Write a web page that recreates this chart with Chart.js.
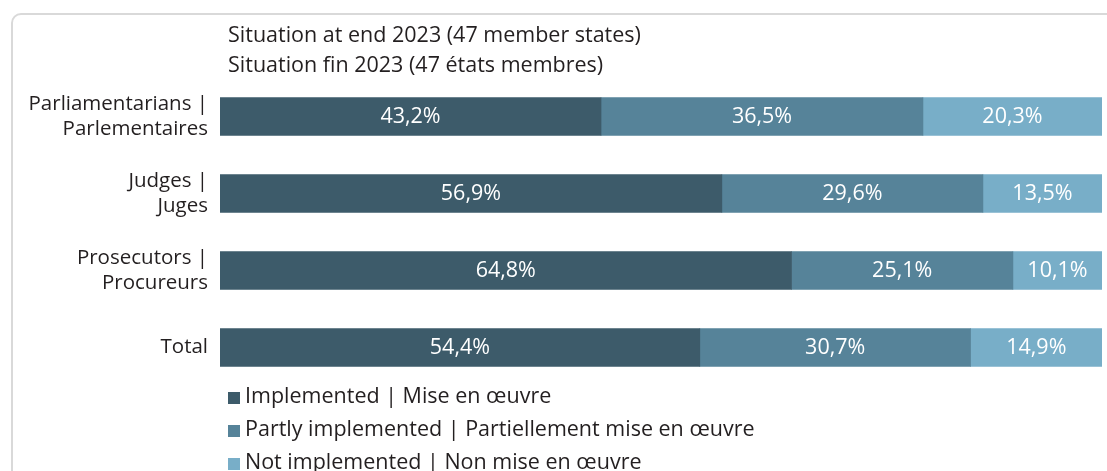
<!DOCTYPE html>
<html>
<head>
<meta charset="utf-8">
<script src="https://cdn.jsdelivr.net/npm/chart.js@4"></script>
<style>
  html, body { margin: 0; padding: 0; background: #fff; overflow: hidden; }
  body { width: 1107px; height: 471px; position: relative; font-family: "Open Sans", sans-serif; color: #231f20; }
  .frame { position: absolute; left: 11px; top: 13px; width: 1300px; height: 700px;
           border: 2px solid #d9d9d9; border-radius: 10px; box-sizing: border-box; }
  #wrap { position: absolute; left: 0; top: 0; width: 1107px; height: 471px; }
  .title { position: absolute; left: 228px; font-size: 21.5px; line-height: 30px; white-space: nowrap; }
  #legend { position: absolute; left: 228px; top: 378px; font-size: 21.5px; }
  #legend div { height: 33px; line-height: 33px; white-space: nowrap; }
  #legend span.box { display: inline-block; width: 12px; height: 12px; margin-right: 5px; vertical-align: -1px; }
</style>
</head>
<body>
<div class="frame"></div>
<div id="wrap"><canvas id="chart"></canvas></div>
<div class="title" style="top:19px">Situation at end 2023 (47 member states)</div>
<div class="title" style="top:49px">Situation fin 2023 (47 états membres)</div>
<div id="legend"></div>
<script>
const categories = [
  ["Parliamentarians |", "Parlementaires"],
  ["Judges |", "Juges"],
  ["Prosecutors |", "Procureurs"],
  "Total"
];
const seriesNames = [
  "Implemented | Mise en œuvre",
  "Partly implemented | Partiellement mise en œuvre",
  "Not implemented | Non mise en œuvre"
];
const implemented = [43.2, 56.9, 64.8, 54.4];
const partly = [36.5, 29.6, 25.1, 30.7];
const notImplemented = [20.3, 13.5, 10.1, 14.9];
const colors = ["#3d5b6a", "#568399", "#78aec8"];

const barLabels = {
  id: "barLabels",
  afterDatasetsDraw(chart) {
    const ctx = chart.ctx;
    ctx.save();
    ctx.fillStyle = "#ffffff";
    ctx.font = "21.5px 'Open Sans'";
    ctx.textAlign = "center";
    ctx.textBaseline = "middle";
    chart.data.datasets.forEach((ds, i) => {
      chart.getDatasetMeta(i).data.forEach((bar, j) => {
        const x = (bar.x + bar.base) / 2;
        ctx.fillText(ds.data[j].toFixed(1).replace(".", ",") + "%", x, bar.y);
      });
    });
    ctx.restore();
  }
};

const chart = new Chart(document.getElementById("chart"), {
  type: "bar",
  data: {
    labels: categories,
    datasets: [
      { label: seriesNames[0], data: implemented, backgroundColor: colors[0] },
      { label: seriesNames[1], data: partly, backgroundColor: colors[1] },
      { label: seriesNames[2], data: notImplemented, backgroundColor: colors[2] }
    ]
  },
  options: {
    indexAxis: "y",
    responsive: true,
    maintainAspectRatio: false,
    animation: false,
    events: [],
    layout: { padding: { left: 0, right: 5, top: 78, bottom: 85 } },
    datasets: { bar: { barThickness: 38 } },
    scales: {
      x: { stacked: true, min: 0, max: 100, display: false },
      y: {
        stacked: true,
        grid: { display: false, drawTicks: false },
        border: { display: false },
        ticks: { padding: 12, color: "#231f20", font: { family: "'Open Sans'", size: 20.5 } },
        afterFit(scale) { scale.width = 220; }
      }
    },
    plugins: { legend: { display: false }, tooltip: { enabled: false } }
  },
  plugins: [barLabels]
});

const legend = document.getElementById("legend");
chart.data.datasets.forEach(ds => {
  const row = document.createElement("div");
  const box = document.createElement("span");
  box.className = "box";
  box.style.background = ds.backgroundColor;
  row.appendChild(box);
  row.appendChild(document.createTextNode(ds.label));
  legend.appendChild(row);
});
</script>
</body>
</html>
